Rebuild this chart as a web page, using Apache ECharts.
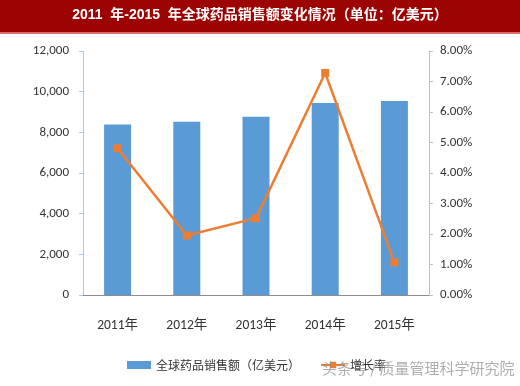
<!DOCTYPE html>
<html><head><meta charset="utf-8">
<script src="https://cdn.jsdelivr.net/npm/echarts@6/dist/echarts.min.js"></script>
<style>html,body{margin:0;padding:0;background:#fff}#c{width:520px;height:386px}</style>
</head><body><div id="c"></div>
<script>
const titleText = '2011  年-2015  年全球药品销售额变化情况（单位：亿美元）';
const categories = ['2011年','2012年','2013年','2014年','2015年'];
const salesName = '全球药品销售额（亿美元）';
const growthName = '增长率';
const sales = [8380, 8520, 8770, 9440, 9540];
const growth = [4.81, 1.95, 2.52, 7.28, 1.07];
const watermark = '头条号 / 质量管理科学研究院';

const lblFont = "Carlito,'Noto Sans CJK SC',sans-serif";
const chart = echarts.init(document.getElementById('c'), null, {renderer:'canvas'});
chart.setOption({
  animation:false,
  backgroundColor:'#fff',
  graphic:[
    {type:'rect', shape:{x:0,y:0,width:520,height:32}, style:{fill:'#9C0303'}, z:0},
    {type:'rect', shape:{x:0,y:32,width:520,height:2}, style:{fill:'#D96B6B'}, z:0},
    {type:'text', left:'center', top:8, style:{text:titleText, fill:'#fff', font:"bold 14px 'Liberation Sans','Noto Sans CJK SC',sans-serif"}, z:5},
    {type:'text', left:322, top:361, style:{text:watermark, fill:'rgba(140,140,140,0.7)', font:"15px 'Noto Sans CJK SC',sans-serif"}, z:10}
  ],
  grid:{left:83, right:91, top:51, bottom:91, containLabel:false},
  legend:{
    top:354, left:122, itemGap:20, itemWidth:24, itemHeight:8,
    textStyle:{fontSize:12, color:'#333', fontFamily:"'Noto Sans CJK SC',sans-serif"},
    data:[{name:salesName, icon:'rect'}, {name:growthName}]
  },
  xAxis:{
    type:'category', data:categories,
    axisLine:{lineStyle:{color:'#8c8c8c', width:1}},
    axisTick:{show:false},
    axisLabel:{color:'#333', fontSize:13.5, margin:24, fontFamily:lblFont}
  },
  yAxis:[
    {type:'value', min:0, max:12000, interval:2000,
     axisLine:{show:true, lineStyle:{color:'#A9C8E8'}},
     axisTick:{show:true, length:4, lineStyle:{color:'#A9C8E8'}},
     splitLine:{show:false},
     axisLabel:{color:'#333', fontSize:13, margin:14, fontFamily:lblFont,
       formatter:v=>v.toLocaleString('en-US')}},
    {type:'value', min:0, max:8, interval:1, position:'right',
     axisLine:{show:true, lineStyle:{color:'#bfbfbf'}},
     axisTick:{show:true, length:4, lineStyle:{color:'#bfbfbf'}},
     splitLine:{show:false},
     axisLabel:{color:'#333', fontSize:13, margin:11, fontFamily:lblFont,
       formatter:v=>v.toFixed(2)+'%'}}
  ],
  series:[
    {name:salesName, type:'bar', data:sales, barWidth:27, itemStyle:{color:'#5B9BD5'}},
    {name:growthName, type:'line', yAxisIndex:1, data:growth, symbol:'rect', symbolSize:8,
     lineStyle:{color:'#ED7D31', width:2.5}, itemStyle:{color:'#ED7D31'}}
  ]
});
</script></body></html>
